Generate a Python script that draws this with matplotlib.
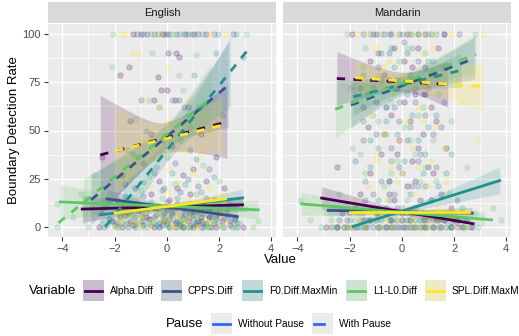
import matplotlib
matplotlib.use("Agg")
import matplotlib.pyplot as plt
import numpy as np
from matplotlib.patches import Rectangle
from matplotlib.lines import Line2D

plt.rcParams['font.family'] = ['Liberation Sans', 'DejaVu Sans']

W, H = 519, 336

variables = ["Alpha.Diff", "CPPS.Diff", "F0.Diff.MaxMin", "L1-L0.Diff", "SPL.Diff.MaxMin"]
colors = ["#440154", "#3B528B", "#21908C", "#5DC863", "#FDE725"]
panels = ["English", "Mandarin"]
pause_labels = ["Without Pause", "With Pause"]

# ---- scatter points, (value, rate) per variable ----
eng_alpha = [(-1.3,100),(-1.0,100),(-0.75,100),(-0.2,100),(0.0,100),(0.7,100),(1.05,100),(1.5,100),
    (0.03,90),(0.35,90),(0.45,88),(-1.45,83),(-1.8,79),(-0.35,78),(-0.22,71),(0.0,71),
    (-0.5,66),(0.3,66),(0.8,62),(-1.4,55),(-0.6,48),(1.3,48),(0.2,42),(-2.5,36),(1.9,36),
    (-0.9,33),(1.0,30),(-1.7,27),(0.6,27),(-0.3,24),(1.5,24),(-1.2,20),(0.4,20),(2.2,20),
    (-0.6,17),(0.9,17),(-1.9,14),(0.1,14),(1.8,14),(-1.0,11),(0.7,11),(2.6,11),(-0.3,9),(1.3,9),
    (-1.5,7),(0.2,7),(2.0,7),(-0.8,5),(0.9,5),(1.6,5),(-2.1,3),(-0.1,3),(1.2,3),(-1.3,1),(0.5,1),(2.4,1),
    (-2.6,0),(-1.7,0),(-0.5,0),(0.3,0),(1.0,0),(1.9,0),(2.9,0),
    (-1.9,2),(-1.6,6),(-1.4,3),(-1.1,8),(-0.9,1),(-0.7,4),(-0.4,6),(-0.2,1),(0.0,9),(0.1,4),
    (0.3,2),(0.5,6),(0.6,0),(0.8,3),(1.0,8),(1.1,1),(1.3,5),(1.5,2),(1.7,0),(1.9,6),(2.1,3),
    (2.3,9),(-1.2,5),(-0.5,10),(0.4,12),(1.4,11),(-0.1,7),(0.9,7),(1.6,9),(2.6,4)]
eng_cpps = [(-1.15,100),(-0.5,100),(-0.1,100),(0.35,100),(0.8,100),(1.2,100),(1.8,100),(2.55,100),
    (-1.0,66),(0.45,66),(0.65,62),(-0.2,45),(0.9,40),(-1.1,36),(0.3,33),(1.6,30),(-0.5,28),
    (0.8,25),(-1.6,22),(1.2,21),(-0.2,19),(0.5,18),(-0.9,16),(1.5,15),(0.0,13),(-1.4,12),(2.0,12),
    (-0.5,10),(0.8,10),(-1.8,8),(0.3,8),(1.7,8),(-1.0,6),(-0.2,6),(1.1,6),(2.3,6),(-2.2,4),(-0.6,4),
    (0.6,4),(1.9,4),(-1.5,2),(0.0,2),(1.4,2),(-2.4,0),(-1.2,0),(-0.3,0),(0.6,0),(1.3,0),(2.2,0),(2.7,0),
    (-2.0,1),(-1.8,5),(-1.5,0),(-1.3,9),(-1.0,3),(-0.8,7),(-0.6,1),(-0.4,9),(-0.1,4),(0.1,0),
    (0.2,6),(0.4,10),(0.5,2),(0.7,6),(0.9,1),(1.0,4),(1.2,8),(1.4,0),(1.6,5),(1.8,2),(2.0,8),
    (2.4,3),(-1.7,11),(-0.3,2),(0.8,12),(1.5,10),(-0.9,5),(0.3,3),(1.1,2),(2.2,5),(-1.2,2),
    (0.0,8),(0.6,9),(1.3,3)]
eng_f0 = [(-0.9,100),(-0.35,100),(0.1,100),(0.45,100),(0.95,100),(1.35,100),(1.95,100),(2.65,100),
    (1.9,90),(2.9,88),(1.05,79),(0.2,66),(-0.3,62),(2.1,58),(-0.8,50),(0.5,45),(-1.3,38),(1.1,35),
    (-0.4,31),(0.2,28),(1.8,26),(-0.9,23),(0.7,22),(-0.1,20),(1.3,18),(-1.6,16),(0.4,15),(-0.6,13),
    (0.9,12),(2.4,12),(-1.2,10),(0.2,10),(1.6,9),(-0.3,7),(0.7,7),(-1.8,5),(0.1,5),(1.3,5),(2.6,5),
    (-0.9,3),(0.5,3),(1.8,3),(-2.3,1),(-0.4,1),(1.0,1),(-1.9,0),(-0.8,0),(0.1,0),(0.9,0),(1.6,0),(2.5,0),
    (-2.1,3),(-1.7,2),(-1.4,6),(-1.2,1),(-1.0,8),(-0.7,2),(-0.5,5),(-0.2,3),(0.0,1),(0.2,8),
    (0.4,3),(0.6,5),(0.8,0),(1.0,6),(1.2,2),(1.4,7),(1.5,1),(1.7,5),(2.0,1),(2.2,7),(-0.9,10),
    (0.3,11),(1.1,10),(-1.5,9),(0.7,9),(-0.3,0),(1.9,8),(2.7,2)]
eng_l1l0 = [(-2.05,100),(-0.6,100),(0.2,100),(0.6,100),(3.05,100),
    (-0.55,90),(1.1,89),(-2.1,83),(0.45,79),(0.6,71),(-0.7,66),(1.2,62),(-1.2,56),(0.9,52),
    (-2.8,27),(-1.5,40),(0.0,36),(1.4,32),(-3.3,17),(-0.7,26),(2.0,24),(-4.2,12),(-3.6,5),(-2.9,10),
    (0.3,22),(-1.0,19),(1.1,17),(-0.2,15),(2.3,14),(-1.7,12),(0.6,12),(-0.8,9),(1.4,9),(3.0,9),(3.5,3),
    (-2.6,7),(0.0,7),(0.9,6),(-1.3,4),(1.9,4),(-0.5,2),(0.6,2),(2.8,2),(-4.2,0),(-3.0,0),(-2.0,0),
    (-1.0,0),(0.4,0),(1.5,0),(2.6,0),
    (-2.2,4),(-1.9,8),(-1.6,1),(-1.3,7),(-1.1,2),(-0.9,5),(-0.6,8),(-0.4,3),(-0.1,5),(0.1,2),
    (0.3,6),(0.5,0),(0.7,4),(0.9,9),(1.1,3),(1.3,6),(1.6,2),(1.8,7),(2.1,0),(2.4,6),(-2.5,2),
    (-0.2,10),(1.0,11),(3.3,0)]
eng_spl = [(-1.75,100),(-1.6,100),(1.65,100),(2.25,100),(-0.25,100),
    (-1.35,90),(-1.1,90),(0.03,83),(-0.9,66),(0.9,66),(-0.3,62),(0.0,55),(1.7,50),(-1.0,44),(0.6,40),
    (1.3,38),(-0.5,35),(0.1,30),(1.0,28),(-1.4,26),(0.4,24),(-0.7,21),(1.6,20),(0.0,18),(-1.2,15),
    (0.8,14),(-0.4,12),(1.9,11),(0.3,9),(-1.6,8),(1.1,8),(-0.9,6),(0.5,5),(2.1,5),(-0.2,3),(1.5,3),
    (-1.1,1),(0.8,1),(-2.0,0),(-0.7,0),(0.2,0),(1.2,0),(2.0,0),
    (-1.8,3),(-1.5,5),(-1.3,2),(-1.0,4),(-0.8,9),(-0.6,3),(-0.3,7),(0.0,4),(0.2,1),(0.4,7),
    (0.6,3),(0.9,5),(1.1,0),(1.3,6),(1.6,1),(1.8,4),(2.0,8),(2.3,2),(-0.5,11),(0.7,10),(1.4,12)]

mnd_alpha = [(-1.9,100),(-1.0,100),(-0.4,100),(0.2,100),(0.9,100),(1.6,100),
    (-0.3,93),(0.6,93),(-1.2,86),(0.1,86),(0.9,83),(-0.7,79),(1.3,79),(-1.6,72),(-0.2,72),(0.5,69),
    (-1.0,65),(1.1,62),(-0.4,58),(0.3,55),(-1.3,52),(0.8,48),(-0.1,45),(1.7,41),(-0.8,38),(0.4,34),
    (-2.5,31),(1.2,28),(-0.5,24),(0.2,21),(-1.6,17),(1.5,17),(-0.3,14),(0.7,14),(-1.1,10),(1.9,10),
    (-2.3,7),(-0.6,7),(0.4,7),(1.2,7),(-1.5,3.5),(0.0,3.5),(0.9,3.5),(2.5,3.5),
    (-2.9,0),(-1.8,0),(-0.9,0),(0.1,0),(0.7,0),(1.5,0),(2.3,0),(2.7,0),
    (-2.5,0),(-2.1,0),(-1.4,0),(-1.2,3.5),(-0.6,0),(-0.4,3.5),(-0.3,0),(0.3,3.5),(0.4,0),(0.9,0),
    (1.2,0),(1.4,3.5),(1.9,0),(2.0,3.5),(-0.9,7),(0.0,7),(0.8,7),(1.6,7),(-1.8,10),(-0.5,17),
    (0.5,24),(-1.2,28),(1.0,31),(-0.2,38),(0.6,41),(-0.7,48),(1.3,55),(-1.5,62),(0.1,65),(0.9,69),
    (-0.5,76),(0.4,83),(-0.9,90),(1.4,93)]
mnd_cpps = [(-1.5,100),(-0.7,100),(-0.1,100),(0.3,100),(1.1,100),(2.2,100),
    (0.1,96),(-0.5,90),(0.6,86),(-0.9,83),(0.3,79),(-0.2,76),(1.0,72),(-1.3,69),(0.5,65),(-0.6,62),
    (0.9,58),(-0.1,55),(1.5,52),(-1.0,48),(0.2,45),(-0.4,41),(0.7,38),(-1.8,34),(1.3,31),(0.0,28),
    (-0.8,24),(0.9,21),(-0.3,17),(2.1,14),(-1.4,14),(0.5,10),(-0.2,10),
    (-2.0,7),(-1.0,7),(0.0,7),(0.8,7),(1.7,7),(-2.4,3.5),(-1.3,3.5),(-0.4,3.5),(0.5,3.5),(1.3,3.5),(2.1,3.5),
    (-2.7,0),(-2.2,0),(-1.6,0),(-1.1,0),(-0.6,0),(-0.2,0),(0.3,0),(0.8,0),(1.2,0),(1.7,0),(2.1,0),(2.6,0),
    (-2.5,0),(-1.9,0),(-1.35,0),(-0.85,0),(-0.4,0),(0.0,0),(0.5,0),(1.0,0),(1.45,0),(1.9,0),
    (2.35,0),(-2.1,3.5),(-1.6,3.5),(-1.0,3.5),(-0.2,3.5),(0.2,3.5),(0.8,3.5),(1.0,3.5),(1.6,3.5),
    (2.4,3.5),(-1.5,7),(-0.5,7),(0.4,7),(1.2,7),(2.0,7),(-0.6,10),(1.1,14),(-1.1,17),(0.4,21),
    (-0.1,31),(0.6,34),(-1.5,45),(1.2,48),(-0.3,62),(0.8,69),(-0.8,76),(0.2,90),(-1.1,100),
    (0.6,100),(1.6,100)]
mnd_f0 = [(-1.2,100),(-0.5,100),(0.0,100),(0.6,100),(1.3,100),
    (0.4,93),(-0.8,90),(1.2,86),(-0.3,83),(0.7,76),(-1.1,72),(0.2,69),(1.6,65),(-0.6,62),(0.4,58),
    (-1.5,55),(1.0,52),(-0.2,48),(0.6,45),(-0.9,41),(1.9,38),(0.1,34),(-1.2,31),(0.8,28),(-0.5,24),
    (1.4,21),(0.3,17),(-0.9,14),(1.1,14),(0.0,10),(2.3,10),
    (-1.7,7),(-0.3,7),(0.6,7),(-2.0,3.5),(-0.8,3.5),(0.3,3.5),(1.6,3.5),
    (-2.5,0),(-1.4,0),(-0.4,0),(0.5,0),(1.4,0),(2.4,0),
    (-2.2,0),(-1.7,0),(-0.9,0),(-0.1,0),(0.2,0),(0.9,0),(1.9,0),(-1.4,3.5),(-0.5,3.5),(0.0,3.5),
    (0.7,3.5),(1.2,3.5),(2.2,3.5),(-1.0,7),(0.2,7),(1.0,7),(1.8,7),(-0.5,14),(0.6,21),(-1.4,24),
    (1.7,28),(-0.4,34),(0.9,38),(-1.2,45),(0.3,52),(-0.6,55),(1.3,58),(-0.1,65),(0.5,72),
    (-1.5,79),(1.0,86),(-0.4,93)]
mnd_l1l0 = [(-2.1,100),(-0.8,100),(0.4,100),(1.0,100),(2.8,100),
    (-1.4,93),(0.9,90),(-0.1,86),(1.6,83),(-0.9,79),(0.4,76),(-2.0,72),(1.4,69),(-0.4,65),(0.8,62),
    (-1.1,58),(1.9,55),(0.1,52),(-0.6,48),(1.2,45),(-1.9,41),(0.5,38),(-0.2,34),(2.5,31),(-1.4,28),
    (0.7,24),(-0.7,21),(1.8,17),(-3.9,14),(0.2,14),(-1.0,10),(3.5,10),(-2.9,7),(-0.2,7),(1.0,7),(2.8,7),
    (-3.5,3.5),(-1.8,3.5),(0.7,3.5),(3.8,3.5),(-3.1,0),(-2.0,0),(-0.7,0),(0.6,0),(1.8,0),(2.9,0),
    (-2.6,0),(-1.5,0),(-0.4,0),(0.2,0),(1.2,0),(2.4,0),(-2.7,3.5),(-1.2,3.5),(-0.3,3.5),(0.3,3.5),
    (1.4,3.5),(2.3,3.5),(-1.6,7),(-0.7,7),(0.5,7),(1.6,7),(-2.4,17),(1.3,24),(-0.4,28),(0.9,31),
    (-1.6,38),(0.3,45),(-0.9,55),(0.6,58),(-0.3,72),(1.1,79),(-1.5,83),(0.2,93)]
mnd_spl = [(-1.7,100),(-0.2,100),(0.7,100),(1.9,100),(3.1,100),
    (-1.0,93),(0.8,90),(-0.5,86),(1.5,83),(0.0,79),(-1.7,76),(1.0,72),(-0.3,69),(2.3,65),(0.6,62),
    (-1.2,58),(0.2,55),(1.3,52),(-0.7,48),(2.9,45),(0.4,41),(-1.0,38),(1.1,34),(-0.4,31),(0.0,28),
    (1.7,24),(-1.3,21),(0.5,17),(-0.6,14),(1.4,10),
    (-1.2,7),(0.3,7),(1.5,7),(2.2,7),(-1.6,3.5),(-0.1,3.5),(1.0,3.5),(-2.2,0),(-0.9,0),(0.4,0),(1.0,0),(2.0,0),
    (-1.9,0),(-1.4,0),(-0.3,0),(0.7,0),(1.5,0),(2.4,0),(-1.1,3.5),(-0.6,3.5),(0.4,3.5),(1.4,3.5),
    (2.0,3.5),(-0.6,7),(0.0,7),(0.9,7),(1.9,7),(-1.8,14),(1.0,21),(-0.2,24),(0.6,31),(-0.9,34),
    (1.6,41),(-0.1,45),(0.8,55),(-1.6,65),(0.3,76),(-0.7,83),(1.2,93),(-1.3,100),(0.3,100),(1.2,100)]

points = {
    "English": [eng_alpha, eng_cpps, eng_f0, eng_l1l0, eng_spl],
    "Mandarin": [mnd_alpha, mnd_cpps, mnd_f0, mnd_l1l0, mnd_spl],
}

# ---- fitted lines: x_start, x_end, y_start, y_end, band half-width (left, min, right) ----
eng_without = [(-3.24, 2.9, 9.2, 11.4, 7, 1.5, 3.5),
               (-2.29, 2.7, 14.5, 5.3, 5, 1.5, 4),
               (-2.55, 2.9, 6.2, 15.0, 5, 1.5, 4.5),
               (-4.08, 3.5, 12.9, 8.8, 9, 1.5, 5),
               (-1.98, 2.25, 7.1, 14.5, 4, 1.5, 3.5)]
eng_with = [(-2.55, 2.3, 37.3, 54.5, 31, 8, 19),
            (-2.9, 2.35, 14.0, 73.5, 13, 6, 22),
            (-2.36, 3.05, 0.0, 91.0, 14, 6, 22),
            (-4.15, 1.7, 2.0, 67.0, 15, 6, 18),
            (-1.98, 2.13, 39.4, 52.8, 22, 8, 15)]
mnd_without = [(-3.07, 2.73, 14.9, 1.6, 6, 1.5, 3),
               (-2.82, 2.7, 8.5, 7.1, 3, 1.2, 3),
               (-1.87, 3.75, 0.2, 24.0, 3, 1.5, 7),
               (-3.84, 3.44, 11.9, 3.6, 6, 1.5, 4),
               (-1.99, 2.58, 7.6, 7.6, 2.5, 1.2, 2.5)]
mnd_with = [(-2.49, 1.76, 77.0, 74.0, 14, 5, 12),
            (-1.95, 2.78, 63.2, 87.4, 12, 5, 11),
            (-1.86, 2.27, 67.5, 81.3, 10, 4, 9),
            (-2.55, 2.84, 61.0, 89.6, 15, 5, 10),
            (-1.79, 3.1, 77.4, 72.9, 9, 4, 12.5)]

fits = {"English": [eng_without, eng_with], "Mandarin": [mnd_without, mnd_with]}


def fx(px):
    return px / W


def fy(py):
    return 1 - py / H


fig = plt.figure(figsize=(W / 100, H / 100), dpi=100)

panel_left = [48, 283]
panel_w = 228
top, bottom = 24, 237

for k, name in enumerate(panels):
    ax = fig.add_axes([fx(panel_left[k]), fy(bottom), panel_w / W, (bottom - top) / H])
    ax.set_facecolor("#EBEBEB")
    ax.set_xlim(-4.55, 4.18)
    ax.set_ylim(-5.3, 105.3)
    ax.set_xticks([-4, -2, 0, 2, 4])
    ax.set_yticks([0, 25, 50, 75, 100])
    ax.set_xticks([-3, -1, 1, 3], minor=True)
    ax.set_yticks([12.5, 37.5, 62.5, 87.5], minor=True)
    ax.grid(True, which="major", color="white", lw=1.0)
    ax.grid(True, which="minor", color="white", lw=0.5)
    ax.set_axisbelow(True)
    for s in ax.spines.values():
        s.set_visible(False)
    ax.tick_params(which="major", length=3, color="#333333", labelsize=8, labelcolor="#4D4D4D", pad=2)
    ax.tick_params(which="minor", length=0)
    if k == 1:
        ax.tick_params(axis="y", labelleft=False, length=0)

    for v in range(5):
        pts = np.array(points[name][v])
        ax.scatter(pts[:, 0], pts[:, 1], s=15, color=colors[v], alpha=0.22, lw=0.6, zorder=2)

    for v in range(5):
        for p, style in enumerate(["-", (0, (3, 3))]):
            x0, x1, y0, y1, hl, hm, hr = fits[name][p][v]
            xs = np.linspace(x0, x1, 80)
            ys = y0 + (y1 - y0) * (xs - x0) / (x1 - x0)
            hw = np.where(xs < 0,
                          np.sqrt(hm ** 2 + (hl ** 2 - hm ** 2) * (xs / x0) ** 2),
                          np.sqrt(hm ** 2 + (hr ** 2 - hm ** 2) * (xs / x1) ** 2))
            lo, hi = ys - hw, ys + hw
            ok = (lo >= 0) & (hi <= 100)
            ax.fill_between(xs, lo, hi, where=ok, color=colors[v], alpha=0.18, lw=0, zorder=3)
            ax.plot(xs, ys, color=colors[v], lw=2.0, ls=style, zorder=4)

    # facet strip
    sax = fig.add_axes([fx(panel_left[k]), fy(top - 1), panel_w / W, 21 / H])
    sax.set_facecolor("#D9D9D9")
    sax.set_xticks([])
    sax.set_yticks([])
    for s in sax.spines.values():
        s.set_visible(False)
    sax.text(0.5, 0.5, name, ha="center", va="center", fontsize=8, color="#1A1A1A",
             transform=sax.transAxes)

fig.text(fx(280), fy(260), "Value", ha="center", va="center", fontsize=9.5)
fig.text(fx(14), fy(130), "Boundary Detection Rate", ha="center", va="center",
         rotation=90, fontsize=9.5)

# ---- legend, drawn by hand like ggplot's bottom legend ----
key = 21
fig.text(fx(29), fy(291), "Variable", ha="left", va="center", fontsize=9.5)
key_x = [83, 161, 242, 346, 425]
for v in range(5):
    kx = key_x[v]
    fig.patches.append(Rectangle((fx(kx), fy(301)), key / W, key / H, transform=fig.transFigure,
                                 facecolor="#EBEBEB", edgecolor="none"))
    fig.patches.append(Rectangle((fx(kx), fy(301)), key / W, key / H, transform=fig.transFigure,
                                 facecolor=colors[v], alpha=0.2, edgecolor="none"))
    fig.lines.append(Line2D([fx(kx + 2), fx(kx + 19)], [fy(290.5), fy(290.5)],
                            transform=fig.transFigure, color=colors[v], lw=2))
    fig.text(fx(kx + 27), fy(291), variables[v], ha="left", va="center", fontsize=7.3)

fig.text(fx(166), fy(324), "Pause", ha="left", va="center", fontsize=9.5)
pkey_x = [211, 312]
for p in range(2):
    kx = pkey_x[p]
    fig.patches.append(Rectangle((fx(kx), fy(334)), key / W, key / H, transform=fig.transFigure,
                                 facecolor="#EBEBEB", edgecolor="none"))
    x_end = kx + 19 if p == 0 else kx + 12
    fig.lines.append(Line2D([fx(kx + 2), fx(x_end)], [fy(323.5), fy(323.5)],
                            transform=fig.transFigure, color="#3366FF", lw=2))
    fig.text(fx(kx + 27), fy(324), pause_labels[p], ha="left", va="center", fontsize=7.3)

fig.savefig("out.png", dpi=100, facecolor="white")
